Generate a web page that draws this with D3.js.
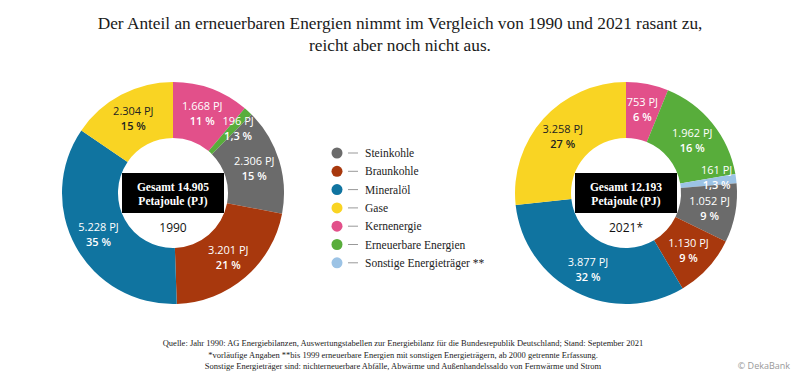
<!DOCTYPE html>
<html>
<head>
<meta charset="utf-8">
<script src="https://cdnjs.cloudflare.com/ajax/libs/d3/7.8.5/d3.min.js"></script>
<style>
  body { margin: 0; background: #fff; }
  svg { display: block; }
</style>
</head>
<body>
<script>
// Energieverbrauch 1990 vs 2021, zwei Donuts
var categories = ['Steinkohle', 'Braunkohle', 'Mineralöl', 'Gase', 'Kernenergie', 'Erneuerbare Energien', 'Sonstige Energieträger **'];
var colors = ['#6b6b6b', '#a8380d', '#1074a0', '#f9d423', '#e2508a', '#58ad3b', '#9cc3e5'];
var values1990 = [2306, 3201, 5228, 2304, 1668, 196, 0];
var values2021 = [1052, 1130, 3877, 3258, 753, 1962, 161];
var percent1990 = ['15 %', '21 %', '35 %', '15 %', '11 %', '1,3 %', ''];
var percent2021 = ['9 %', '9 %', '32 %', '27 %', '6 %', '16 %', '1,3 %'];
// Reihenfolge im Uhrzeigersinn ab 12 Uhr
var pieOrder = ['Kernenergie', 'Erneuerbare Energien', 'Sonstige Energieträger **', 'Steinkohle', 'Braunkohle', 'Mineralöl', 'Gase'];
var years = ['1990', '2021*'];
var totals = [14905, 12193];

var titleLines = ['Der Anteil an erneuerbaren Energien nimmt im Vergleich von 1990 und 2021 rasant zu,',
                  'reicht aber noch nicht aus.'];
var footLines = ['Quelle: Jahr 1990: AG Energiebilanzen, Auswertungstabellen zur Energiebilanz für die Bundesrepublik Deutschland; Stand: September 2021',
                 '*vorläufige Angaben  **bis 1999 erneuerbare Energien mit sonstigen Energieträgern, ab 2000 getrennte Erfassung.',
                 'Sonstige Energieträger sind: nichterneuerbare Abfälle, Abwärme und Außenhandelssaldo von Fernwärme und Strom'];

var width = 800, height = 385;
var serif = '"Liberation Serif", "DejaVu Serif", serif';
var sans = '"Open Sans", "Noto Sans", sans-serif';

var de = d3.formatLocale({ decimal: ',', thousands: '.', grouping: [3], currency: ['', ' €'] });
var fmt = de.format(',d');

var color = d3.scaleOrdinal().domain(categories).range(colors);

var svg = d3.select('body').append('svg').attr('width', width).attr('height', height);

svg.selectAll('text.title')
  .data(titleLines)
  .enter()
  .append('text')
  .attr('class', 'title')
  .attr('x', 400)
  .attr('y', function (d, i) { return 29 + i * 22; })
  .attr('text-anchor', 'middle')
  .style('font-family', serif)
  .style('font-size', '17.3px')
  .style('fill', '#1a1a1a')
  .text(function (d) { return d; });

var outerR = 111, innerR = 55;
var pie = d3.pie().sort(null).value(function (d) { return d.value; });
var arc = d3.arc().innerRadius(innerR).outerRadius(outerR);
var labelArc = d3.arc().innerRadius(58).outerRadius(112);

// schmale Segmente: Beschriftung an die Kante zum groesseren Nachbarn schieben
function labelPos(d, arcs, total) {
  if (d.data.value / total < 0.03) {
    var live = arcs.filter(function (a) { return a.data.value > 0; });
    var k = live.indexOf(d);
    var prev = live[(k - 1 + live.length) % live.length];
    var next = live[(k + 1) % live.length];
    var a = prev.data.value > next.data.value ? d.startAngle : d.endAngle;
    var r = 92;
    return [r * Math.sin(a), -r * Math.cos(a)];
  }
  return labelArc.centroid(d);
}

function drawDonut(cx, cy, values, percents, year, total) {
  var rows = pieOrder.map(function (name) {
    var i = categories.indexOf(name);
    return { name: name, value: values[i], pct: percents[i] };
  });
  var sum = d3.sum(rows, function (d) { return d.value; });
  var arcs = pie(rows);
  var g = svg.append('g').attr('transform', 'translate(' + cx + ',' + cy + ')');

  g.selectAll('path')
    .data(arcs)
    .enter()
    .append('path')
    .attr('d', arc)
    .attr('fill', function (d) { return color(d.data.name); });

  var lab = g.selectAll('g.lab')
    .data(arcs.filter(function (d) { return d.data.value > 0; }))
    .enter()
    .append('g')
    .attr('class', 'lab')
    .attr('transform', function (d) { return 'translate(' + labelPos(d, arcs, sum) + ')'; })
    .style('font-family', sans)
    .style('font-size', '11px')
    .attr('text-anchor', 'middle')
    .style('fill', function (d) { return d.data.name === 'Gase' ? '#222' : '#fff'; });
  lab.append('text')
    .attr('y', -7)
    .attr('dy', '0.35em')
    .text(function (d) { return fmt(d.data.value) + ' PJ'; });
  lab.append('text')
    .attr('y', 8)
    .attr('dy', '0.35em')
    .style('font-weight', 600)
    .text(function (d) { return d.data.pct; });

  g.append('rect')
    .attr('x', -51).attr('y', -20)
    .attr('width', 102).attr('height', 40)
    .attr('fill', '#000');
  g.append('text')
    .attr('y', -6).attr('dy', '0.35em')
    .attr('text-anchor', 'middle')
    .style('font-family', serif).style('font-weight', 'bold').style('font-size', '11.5px')
    .style('fill', '#fff')
    .text('Gesamt ' + fmt(total));
  g.append('text')
    .attr('y', 8).attr('dy', '0.35em')
    .attr('text-anchor', 'middle')
    .style('font-family', serif).style('font-weight', 'bold').style('font-size', '11.5px')
    .style('fill', '#fff')
    .text('Petajoule (PJ)');
  g.append('text')
    .attr('y', 35).attr('dy', '0.35em')
    .attr('text-anchor', 'middle')
    .style('font-family', sans).style('font-size', '12px')
    .style('fill', '#111')
    .text(year);
}

drawDonut(173, 193, values1990, percent1990, years[0], totals[0]);
drawDonut(626, 193, values2021, percent2021, years[1], totals[1]);

// Legende
var legend = svg.append('g').attr('transform', 'translate(337,153)');
var item = legend.selectAll('g')
  .data(categories)
  .enter()
  .append('g')
  .attr('transform', function (d, i) { return 'translate(0,' + (i * 18.3) + ')'; });
item.append('circle')
  .attr('r', 5.5)
  .attr('fill', function (d) { return color(d); });
item.append('line')
  .attr('x1', 11).attr('x2', 21)
  .attr('stroke', '#999').attr('stroke-width', 1);
item.append('text')
  .attr('x', 28)
  .attr('dy', '0.35em')
  .style('font-family', serif)
  .style('font-size', '11.5px')
  .style('fill', '#222')
  .text(function (d) { return d; });

svg.selectAll('text.foot')
  .data(footLines)
  .enter()
  .append('text')
  .attr('class', 'foot')
  .attr('x', 403)
  .attr('y', function (d, i) { return 346 + i * 11.5; })
  .attr('text-anchor', 'middle')
  .style('font-family', serif)
  .style('font-size', '8.5px')
  .style('fill', '#222')
  .text(function (d) { return d; });

svg.append('text')
  .attr('x', 790)
  .attr('y', 369)
  .attr('text-anchor', 'end')
  .style('font-family', sans)
  .style('font-size', '9px')
  .style('fill', '#999')
  .text('© DekaBank');
</script>
</body>
</html>
